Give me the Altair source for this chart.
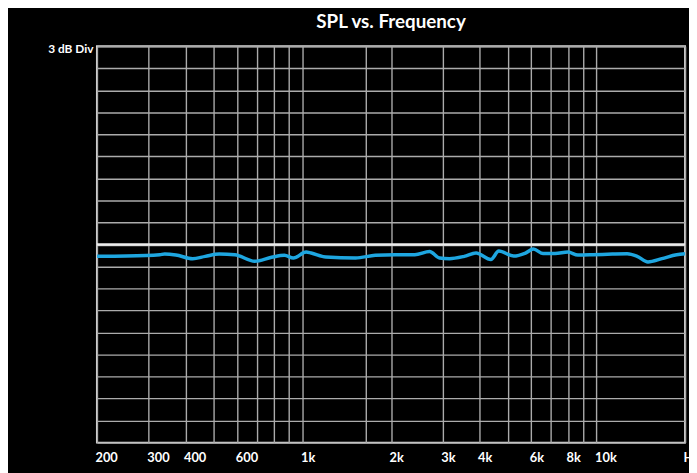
import altair as alt
import pandas as pd

# Measured response (Hz, dB relative to reference level)
freq_hz = [200, 252, 327, 340, 371, 423, 467, 521, 589, 688, 785, 868, 931, 1029, 1070,
           1201, 1515, 1769, 2064, 2410, 2706, 2924, 3159, 3548, 3894, 4373, 4652, 5224,
           5733, 6100, 6590, 7230, 7998, 8640, 9700, 11320, 12720, 13740, 14960, 16680,
           18720, 20000]
spl_db = [-1.62, -1.58, -1.40, -1.31, -1.44, -1.94, -1.62, -1.31, -1.40, -2.29, -1.75,
          -1.48, -1.85, -1.04, -1.17, -1.71, -1.85, -1.48, -1.40, -1.40, -0.97, -1.85,
          -1.94, -1.62, -1.17, -2.05, -0.90, -1.58, -1.17, -0.63, -1.24, -1.24, -1.04,
          -1.44, -1.40, -1.31, -1.27, -1.62, -2.39, -1.94, -1.40, -1.27]

# Axis grid / labels
grid_freqs = [200, 300, 400, 500, 600, 700, 800, 900, 1000, 1640, 2000, 3000, 4000,
              5000, 6000, 7000, 8000, 9000, 10000, 20000]
label_freqs = [200, 300, 400, 600, 1000, 2000, 3000, 4000, 6000, 8000, 10000, 20000]
label_texts = ["200", "300", "400", "600", "1k", "2k", "3k", "4k", "6k", "8k", "10k", "Hz"]
db_grid = list(range(-27, 28, 3))
reference_db = [0]

FONT = "Lato"

label_expr = ""
for f, t in zip(label_freqs, label_texts):
    label_expr += f"datum.value == {f} ? '{t}' : "
label_expr += "''"

curve_df = pd.DataFrame({"freq": freq_hz, "spl": spl_db})
ref_df = pd.DataFrame({"level": reference_db})

x_scale = alt.Scale(type="log", domain=[200, 20000], nice=False)
y_scale = alt.Scale(domain=[-27, 27], nice=False, zero=False)

y_axis = alt.Axis(
    values=db_grid, grid=True, gridColor="#ababab", gridWidth=1.4,
    ticks=False, domain=False, labels=False, labelOverlap=False,
    title="3 dB Div",
    titleAngle=0, titleAlign="right", titleBaseline="middle",
    titleX=-4, titleY=2, titleColor="white", titleFont=FONT,
    titleFontSize=12, titleFontWeight="bold")

curve = alt.Chart(curve_df).mark_line(
    color="#1ea6e0", strokeWidth=3.5, interpolate="monotone", clip=True
).encode(
    x=alt.X("freq:Q", scale=x_scale, axis=alt.Axis(
        values=grid_freqs, labelExpr=label_expr, grid=True, gridColor="#ababab",
        gridWidth=1.4, ticks=False, domain=False, labelColor="white",
        labelFont=FONT, labelFontSize=13, labelFontWeight="bold",
        labelAlign="left", labelFlush=False, labelOverlap=False, labelBound=False,
        labelOffset=-2, labelPadding=9, labelBaseline="top", title=None)),
    y=alt.Y("spl:Q", scale=y_scale, axis=y_axis, title="3 dB Div"),
)

ref_line = alt.Chart(ref_df).mark_rule(color="#ececec", strokeWidth=2.5).encode(
    y=alt.Y("level:Q", scale=y_scale, axis=y_axis, title="3 dB Div")
)

chart = alt.layer(curve, ref_line).properties(
    width=595,
    height=401,
    padding={"left": 90, "top": 36, "right": 4, "bottom": 28},
    autosize=alt.AutoSizeParams(type="none"),
    background="black",
    title=alt.Title("SPL vs. Frequency", color="white", font=FONT, fontSize=19,
                    fontWeight="bold", anchor="middle", offset=10),
).configure_view(stroke="#d8d8d8", strokeWidth=2)

chart.save("out.html", embed_options={"renderer": "svg", "actions": False})
